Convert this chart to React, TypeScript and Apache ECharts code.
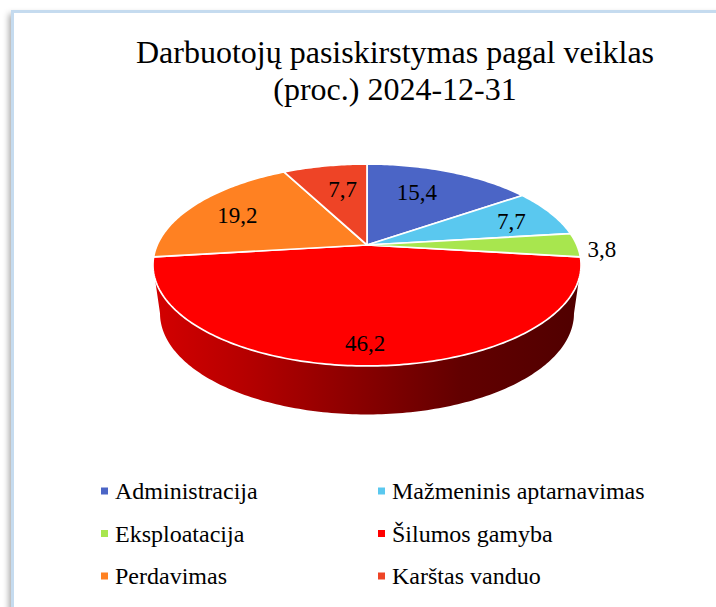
import React, { useEffect, useRef } from "react";
import * as echarts from "echarts";

const titleText = "Darbuotojų pasiskirstymas pagal veiklas\n(proc.) 2024-12-31";
const categories = ["Administracija", "Mažmeninis aptarnavimas", "Eksploatacija", "Šilumos gamyba", "Perdavimas", "Karštas vanduo"];
const shares = [15.4, 7.7, 3.8, 46.2, 19.2, 7.7];
const colors = ["#4b65c6", "#5ac8ef", "#a8e64e", "#ff0000", "#ff8122", "#ee4426"];
const legendLeft = [0, 2, 4];
const legendRight = [1, 3, 5];
// label placement: radial fraction of the rim, then a nudge in pixels
const labelPlace = [
  [0.65, -7, -2],
  [0.77, 1, 2],
  [1.12, 0, 4],
  [0.835, -2, 1],
  [0.74, -1, 2],
  [0.658, 5, 0],
];

const SERIF = "'Liberation Serif', 'Times New Roman', serif";
const TOTAL = shares.reduce((a, b) => a + b, 0);

// Tilted disc: projective mapping of the unit circle to the page
const CX = 367, APEX_Y = 245, PERSP = 0.198, TILT = -48.5, R = 209.8;
const DEPTH = 48.5, BOTTOM_SCALE = 0.967;

function project(u: number, v: number): number[] {
  const d = 1 + PERSP * v;
  return [CX + (R * u) / d, (TILT * v + APEX_Y) / d];
}
function rim(angle: number, bottom = false): number[] {
  const [x, y] = project(Math.sin(angle), Math.cos(angle));
  return bottom ? [CX + (x - CX) * BOTTOM_SCALE, y + DEPTH] : [x, y];
}
function rimArc(a0: number, a1: number, bottom = false): number[][] {
  const n = Math.max(2, Math.ceil(Math.abs(a1 - a0) * 60));
  const pts: number[][] = [];
  for (let i = 0; i <= n; i++) pts.push(rim(a0 + ((a1 - a0) * i) / n, bottom));
  return pts;
}
function startAngle(idx: number): number {
  let sum = 0;
  for (let i = 0; i < idx; i++) sum += shares[i];
  return (sum / TOTAL) * Math.PI * 2;
}

function makeRenderItem(idx: number) {
  return (_params: any, api: any) => {
    const val = api.value(0) as number;
    const a0 = startAngle(idx);
    const a1 = a0 + (val / TOTAL) * Math.PI * 2;
    const children: any[] = [];
    // the only slice that faces the viewer gets a side wall
    if (a0 < Math.PI && a1 > Math.PI) {
      const edge = Math.acos(-PERSP);
      const s0 = Math.max(a0, edge);
      const s1 = Math.min(a1, Math.PI * 2 - edge);
      children.push({
        type: "polygon",
        shape: { points: [...rimArc(s0, s1), ...rimArc(s1, s0, true)] },
        style: {
          fill: new echarts.graphic.LinearGradient(0, 0, 1, 0, [
            { offset: 0, color: "#d40000" },
            { offset: 0.2, color: "#b80000" },
            { offset: 0.5, color: "#860000" },
            { offset: 0.72, color: "#620000" },
            { offset: 1, color: "#500000" },
          ]),
          stroke: "none",
        },
      });
    }
    children.push({
      type: "polygon",
      shape: { points: [project(0, 0), ...rimArc(a0, a1)] },
      style: { fill: colors[idx], stroke: "#ffffff", lineWidth: 1.7, lineJoin: "round" },
    });
    const mid = (a0 + a1) / 2;
    const [f, dx, dy] = labelPlace[idx];
    const [lx, ly] = project(f * Math.sin(mid), f * Math.cos(mid));
    children.push({
      type: "text",
      z2: 10,
      style: {
        x: lx + dx,
        y: ly + dy,
        text: val.toFixed(1).replace(".", ","),
        fill: "#000000",
        font: `23px ${SERIF}`,
        align: "center",
        verticalAlign: "middle",
      },
    });
    return { type: "group", children };
  };
}

// draw order: the large front slice first
const drawOrder = [3, 0, 1, 2, 4, 5];

function legendColumn(indices: number[], left: number): any {
  return {
    data: indices.map((i) => categories[i]),
    orient: "vertical",
    left,
    top: 479,
    padding: 0,
    itemWidth: 7,
    itemHeight: 7,
    itemGap: 18.5,
    icon: "rect",
    selectedMode: false,
    textStyle: { fontFamily: SERIF, fontSize: 24, color: "#000", lineHeight: 24, padding: [0, 0, 0, 2] },
  };
}

export default function App() {
  const ref = useRef<HTMLDivElement>(null);
  useEffect(() => {
    const chart = echarts.init(ref.current!, null, { renderer: "svg" });
    chart.setOption({
      animation: false,
      backgroundColor: "#ffffff",
      title: {
        text: titleText,
        left: 395,
        top: 33,
        padding: 0,
        textAlign: "center",
        textStyle: { fontFamily: SERIF, fontSize: 32, fontWeight: "normal", color: "#000", lineHeight: 37 },
      },
      legend: [legendColumn(legendLeft, 101), legendColumn(legendRight, 378)],
      graphic: [
        {
          type: "rect",
          z: -1,
          silent: true,
          shape: { x: 12.5, y: 11.5, width: 900, height: 800 },
          style: {
            fill: "#ffffff",
            stroke: "#c5dbef",
            lineWidth: 3,
            shadowBlur: 6,
            shadowColor: "rgba(0,0,0,0.35)",
            shadowOffsetX: -2,
            shadowOffsetY: 4,
          },
        },
      ],
      series: drawOrder.map((i) => ({
        type: "custom",
        name: categories[i],
        coordinateSystem: "none",
        silent: true,
        itemStyle: { color: colors[i] },
        data: [[shares[i]]],
        renderItem: makeRenderItem(i),
      })),
    });
    return () => chart.dispose();
  }, []);
  return <div ref={ref} style={{ position: "fixed", left: 0, top: 0, width: 716, height: 607 }} />;
}
